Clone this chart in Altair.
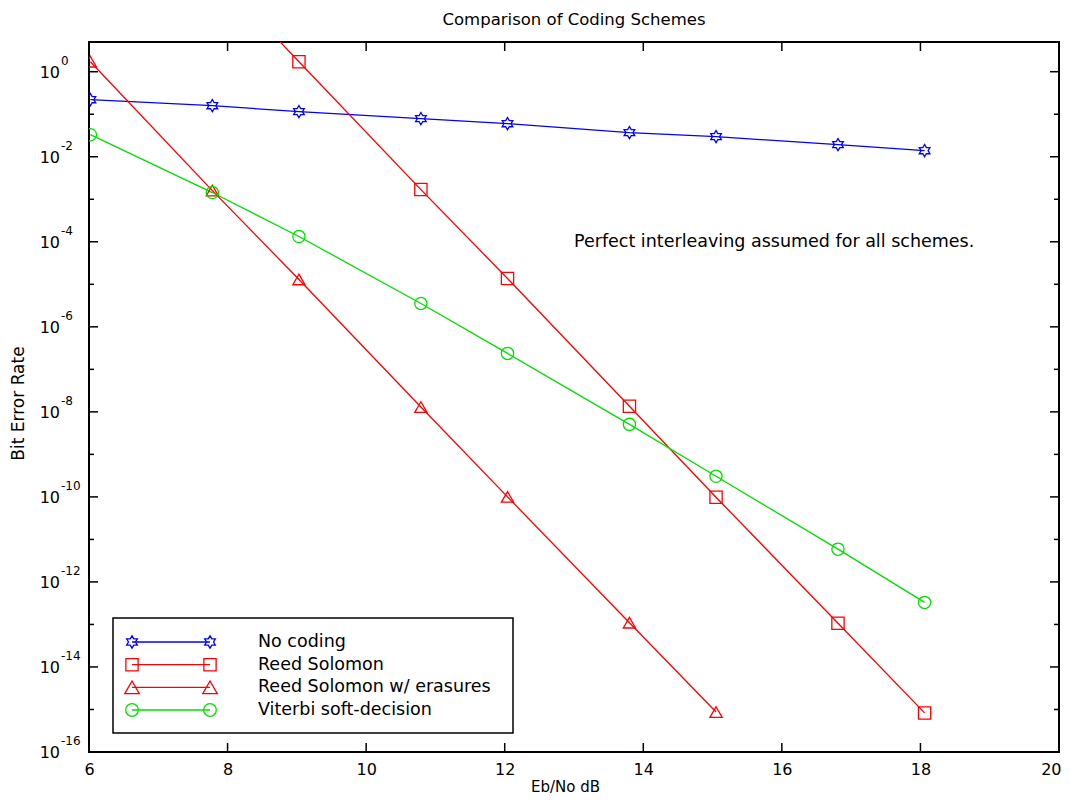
import altair as alt
import pandas as pd

# ---------------- data ----------------
series_names = ["No coding", "Reed Solomon", "Reed Solomon w/ erasures", "Viterbi soft-decision"]
series_colors = ["#0000ff", "#ff0000", "#ff0000", "#00e000"]

ebno_all = [6.02, 7.78, 9.03, 10.79, 12.04, 13.80, 15.05, 16.81, 18.06]

no_coding_x = ebno_all
no_coding_y = [0.220, 0.159, 0.115, 0.0787, 0.060, 0.0369, 0.0297, 0.0193, 0.0139]

rs_x = [7.78, 9.03, 10.79, 12.04, 13.80, 15.05, 16.81, 18.06]
rs_y = [240.0, 1.72, 1.69e-3, 1.37e-5, 1.35e-8, 9.8e-11, 1.07e-13, 8.3e-16]

rse_x = [6.02, 7.78, 9.03, 10.79, 12.04, 13.80, 15.05]
rse_y = [1.72, 1.6e-3, 1.3e-5, 1.3e-8, 1.0e-10, 1.1e-13, 8.7e-16]

vit_x = ebno_all
vit_y = [0.033, 1.44e-3, 1.33e-4, 3.54e-6, 2.37e-7, 5.08e-9, 3.05e-10, 5.9e-12, 3.3e-13]

x_tick_values = [6, 8, 10, 12, 14, 16, 18, 20]
y_label_exponents = [-16, -14, -12, -10, -8, -6, -4, -2, 0]
y_minor_exponents = [-15, -13, -11, -9, -7, -5, -3, -1]

annotation_text = ["Perfect interleaving assumed for all schemes."]
annotation_x = [13.0]
annotation_y = [1e-4]

# ---------------- tables ----------------
rows = []
for name, xs, ys in [
    (series_names[0], no_coding_x, no_coding_y),
    (series_names[1], rs_x, rs_y),
    (series_names[2], rse_x, rse_y),
    (series_names[3], vit_x, vit_y),
]:
    for i, (a, b) in enumerate(zip(xs, ys)):
        rows.append({"series": name, "x": a, "y": b, "order": i})
df = pd.DataFrame(rows)

major_df = pd.DataFrame({"x": [6.0] * len(y_label_exponents),
                         "y": [10.0 ** e for e in y_label_exponents],
                         "lbl": [str(e) for e in y_label_exponents]})
minor_df = pd.DataFrame({"x": [6.0] * len(y_minor_exponents),
                         "y": [10.0 ** e for e in y_minor_exponents]})
xt_df = pd.DataFrame({"x": x_tick_values[1:-1], "y": [1.0] * (len(x_tick_values) - 2)})
ann_df = pd.DataFrame({"t": annotation_text, "x": annotation_x, "y": annotation_y})

STAR = ("M0,-1L-0.289,-0.5L-0.866,-0.5L-0.577,0L-0.866,0.5L-0.289,0.5L0,1"
        "L0.289,0.5L0.866,0.5L0.577,0L0.866,-0.5L0.289,-0.5Z")
series_shapes = [STAR, "square", "triangle-up", "circle"]
series_sizes = [150, 150, 210, 160]

FONT = "DejaVu Sans"
W, H = 970, 710
X_MAX = x_tick_values[-1]

xscale = alt.Scale(domain=[6, 20], nice=False, zero=False)
yscale = alt.Scale(type="log", domain=[1e-16, 5], nice=False)

X_AX = alt.Axis(values=x_tick_values, ticks=False, domain=False, grid=False, labelFlush=False,
                labelAlign={"condition": {"test": f"datum.value == {X_MAX}", "value": "right"},
                            "value": "center"},
                labelOffset={"condition": {"test": f"datum.value == {X_MAX}", "value": 2},
                             "value": 0},
                labelFont=FONT, labelFontSize=16, labelColor="black", labelPadding=9,
                title="Eb/No dB", titleFont=FONT, titleFontSize=15, titleFontWeight="normal",
                titleColor="black", titleX=476, titleY=34, titleBaseline="middle")
Y_AX = alt.Axis(labels=False, ticks=False, domain=False, grid=False,
                title="Bit Error Rate", titleFont=FONT, titleFontSize=17,
                titleFontWeight="normal", titleColor="black", titleX=-71, titleY=361,
                titleAngle=-90, titleBaseline="middle", titleAlign="center")


def X(field="x"):
    return alt.X(f"{field}:Q", scale=xscale, axis=X_AX, title="Eb/No dB")


def Y(field="y"):
    return alt.Y(f"{field}:Q", scale=yscale, axis=Y_AX, title="Bit Error Rate")


color_enc = alt.Color("series:N", scale=alt.Scale(domain=series_names, range=series_colors), legend=None)

lines = alt.Chart(df).mark_line(strokeWidth=1.3, clip=True).encode(
    x=X(), y=Y(), color=color_enc, detail="series:N", order="order:Q")

points = alt.Chart(df).mark_point(filled=False, strokeWidth=1.3, clip=True, opacity=1).encode(
    x=X(), y=Y(), color=color_enc,
    shape=alt.Shape("series:N", scale=alt.Scale(domain=series_names, range=series_shapes), legend=None),
    size=alt.Size("series:N", scale=alt.Scale(domain=series_names, range=series_sizes), legend=None),
)

# inward ticks
tick_style = dict(color="black", strokeWidth=1.5)
left_major = alt.Chart(major_df).mark_rule(**tick_style).encode(y=Y(), x=alt.value(0), x2=alt.value(9))
right_major = alt.Chart(major_df).mark_rule(**tick_style).encode(y=Y(), x=alt.value(W), x2=alt.value(W - 9))
left_minor = alt.Chart(minor_df).mark_rule(**tick_style).encode(y=Y(), x=alt.value(0), x2=alt.value(5))
right_minor = alt.Chart(minor_df).mark_rule(**tick_style).encode(y=Y(), x=alt.value(W), x2=alt.value(W - 5))
bottom_ticks = alt.Chart(xt_df).mark_rule(**tick_style).encode(x=X(), y=alt.value(H), y2=alt.value(H - 9))
top_ticks = alt.Chart(xt_df).mark_rule(**tick_style).encode(x=X(), y=alt.value(0), y2=alt.value(9))

# y tick labels: 10 with superscript exponent
ten_labels = alt.Chart(major_df).mark_text(
    font=FONT, fontSize=16, align="right", baseline="middle", color="black", dy=1).encode(
    y=Y(), x=alt.value(-29), text=alt.value("10"))
exp_labels = alt.Chart(major_df).mark_text(
    font=FONT, fontSize=12, align="left", baseline="middle", color="black", dy=-11).encode(
    y=Y(), x=alt.value(-28), text="lbl:N")

annotation = alt.Chart(ann_df).mark_text(
    font=FONT, fontSize=17.5, align="left", baseline="middle", color="black").encode(
    x=X(), y=Y(), text="t:N")

# legend box
legend_layers = [
    alt.Chart(pd.DataFrame({"k": [0]})).mark_rect(fill="white", stroke="black", strokeWidth=1.5).encode(
        x=alt.value(24), x2=alt.value(424), y=alt.value(576), y2=alt.value(691))
]
row_y = [600, 622.7, 645.3, 668]
for i, name in enumerate(series_names):
    one = pd.DataFrame({"series": [name]})
    legend_layers.append(alt.Chart(one).mark_rule(color=series_colors[i], strokeWidth=1.3).encode(
        x=alt.value(43), x2=alt.value(121), y=alt.value(row_y[i])))
    for px in (43, 121):
        legend_layers.append(alt.Chart(one).mark_point(
            filled=False, strokeWidth=1.3, color=series_colors[i], shape=series_shapes[i],
            size=series_sizes[i], opacity=1).encode(x=alt.value(px), y=alt.value(row_y[i])))
    legend_layers.append(alt.Chart(one).mark_text(
        font=FONT, fontSize=17.5, align="left", baseline="middle", color="black").encode(
        x=alt.value(169), y=alt.value(row_y[i]), text="series:N"))

chart = alt.layer(
    lines, points,
    left_major, right_major, left_minor, right_minor, bottom_ticks, top_ticks,
    ten_labels, exp_labels, annotation,
    *legend_layers,
).properties(
    width=W, height=H,
    padding={"left": 81, "top": 34, "right": 3, "bottom": 44},
    autosize=alt.AutoSizeParams(type="none"),
    title=alt.TitleParams("Comparison of Coding Schemes", font=FONT, fontSize=16.5,
                          fontWeight="normal", color="black", anchor="middle", offset=13),
).configure_view(stroke="black", strokeWidth=2).configure_axis(grid=False, domain=False)

chart.save("out.html", embed_options={"renderer": "svg", "actions": False})
